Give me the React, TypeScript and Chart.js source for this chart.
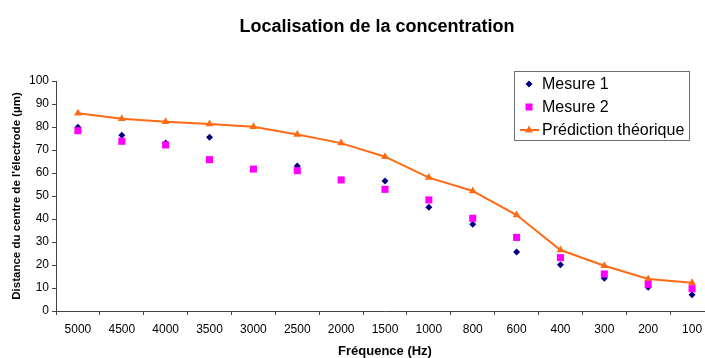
import React, { useEffect, useRef } from "react";
import { Chart, registerables } from "chart.js";

Chart.register(...registerables);

const categories = ["5000", "4500", "4000", "3500", "3000", "2500", "2000", "1500", "1000", "800", "600", "400", "300", "200", "100"];
const mesure1: (number | null)[] = [79.9, 76.4, 73.0, 75.5, null, 63.0, null, 56.5, 45.1, 37.7, 25.7, 20.1, 14.2, 10.3, 7.1];
const mesure2: (number | null)[] = [78.4, 73.8, 72.2, 65.8, 61.7, 61.0, 57.0, 52.9, 48.3, 40.3, 32.0, 23.2, 16.1, 11.6, 9.7];
const prediction: number[] = [86.0, 83.6, 82.3, 81.3, 80.1, 76.7, 73.0, 67.1, 58.0, 52.2, 41.7, 26.5, 19.7, 13.9, 12.3];

const chartTitle = "Localisation de la concentration";
const xTitle = "Fréquence (Hz)";
const yTitle = "Distance du centre de l'électrode (µm)";
const seriesNames = ["Mesure 1", "Mesure 2", "Prédiction théorique"];

const FONT = '"Liberation Sans", Arial, sans-serif';
const C1 = "#000080";
const C2 = "#FF00FF";
const C3 = "#FF6A13";

const overlayPlugin = {
  id: "overlay",
  afterDraw(chart: any) {
    const ctx = chart.ctx;
    ctx.save();
    // Title
    ctx.fillStyle = "#000";
    ctx.font = `bold 18px ${FONT}`;
    ctx.textAlign = "center";
    ctx.textBaseline = "alphabetic";
    ctx.fillText(chartTitle, 377, 31.5);

    // Legend
    const bx = 514.5, by = 71.5, bw = 175, bh = 69;
    ctx.fillStyle = "#fff";
    ctx.fillRect(bx, by, bw, bh);
    ctx.strokeStyle = "#6e6e6e";
    ctx.lineWidth = 1;
    ctx.strokeRect(bx, by, bw, bh);

    const mx = 529;
    const rows = [84, 107, 130];
    // diamond
    ctx.fillStyle = C1;
    ctx.beginPath();
    ctx.moveTo(mx, rows[0] - 3.5);
    ctx.lineTo(mx + 3.5, rows[0]);
    ctx.lineTo(mx, rows[0] + 3.5);
    ctx.lineTo(mx - 3.5, rows[0]);
    ctx.closePath();
    ctx.fill();
    // square
    ctx.fillStyle = C2;
    ctx.fillRect(mx - 3.5, rows[1] - 3.5, 7, 7);
    // line + triangle
    ctx.strokeStyle = C3;
    ctx.lineWidth = 2;
    ctx.beginPath();
    ctx.moveTo(520, rows[2]);
    ctx.lineTo(539, rows[2]);
    ctx.stroke();
    ctx.fillStyle = C3;
    ctx.beginPath();
    ctx.moveTo(mx, rows[2] - 4.5);
    ctx.lineTo(mx + 4, rows[2] + 2.5);
    ctx.lineTo(mx - 4, rows[2] + 2.5);
    ctx.closePath();
    ctx.fill();

    ctx.fillStyle = "#000";
    ctx.font = `16px ${FONT}`;
    ctx.textAlign = "left";
    ctx.textBaseline = "middle";
    seriesNames.forEach((n, i) => ctx.fillText(n, 542, rows[i] + 1));
    ctx.restore();
  },
};

export default function App() {
  const ref = useRef<HTMLCanvasElement>(null);
  useEffect(() => {
    if (!ref.current) return;
    const chart = new Chart(ref.current, {
      type: "line",
      data: {
        labels: categories,
        datasets: [
          {
            label: seriesNames[0],
            data: mesure1,
            showLine: false,
            pointStyle: "rectRot",
            pointRadius: 3.5,
            pointBackgroundColor: C1,
            pointBorderColor: C1,
            pointBorderWidth: 0,
            order: 3,
          },
          {
            label: seriesNames[2],
            data: prediction,
            borderColor: C3,
            borderWidth: 2,
            pointStyle: "triangle",
            pointRadius: 4.5,
            pointBackgroundColor: C3,
            pointBorderColor: C3,
            pointBorderWidth: 0,
            tension: 0,
            order: 2,
          },
          {
            label: seriesNames[1],
            data: mesure2,
            showLine: false,
            pointStyle: "rect",
            pointRadius: 5,
            pointBackgroundColor: C2,
            pointBorderColor: C2,
            pointBorderWidth: 0,
            order: 1,
          },
        ],
      },
      options: {
        responsive: false,
        animation: false,
        devicePixelRatio: 1,
        layout: { padding: { top: 81, right: 6, bottom: 0, left: 0 } },
        plugins: {
          legend: { display: false },
          title: { display: false },
          tooltip: { enabled: false },
        },
        scales: {
          x: {
            type: "category",
            offset: true,
            afterFit: (s: any) => {
              s.height = 47;
            },
            grid: {
              offset: true,
              drawOnChartArea: false,
              drawTicks: true,
              tickLength: 4,
              color: "#444",
            },
            border: { color: "#444", width: 1 },
            ticks: {
              color: "#000",
              font: { family: FONT, size: 12 },
              padding: 7,
              maxRotation: 0,
              autoSkip: false,
            },
            title: {
              display: true,
              text: xTitle,
              color: "#000",
              font: { family: FONT, size: 13, weight: "bold", lineHeight: 1 },
              padding: { top: 0, bottom: 0 },
            },
          },
          y: {
            min: 0,
            max: 100,
            afterFit: (s: any) => {
              s.width = 56;
            },
            grid: {
              drawOnChartArea: false,
              drawTicks: true,
              tickLength: 4,
              color: "#444",
            },
            border: { color: "#444", width: 1 },
            ticks: {
              stepSize: 10,
              color: "#000",
              font: { family: FONT, size: 12 },
              padding: 3,
            },
            title: {
              display: true,
              text: yTitle,
              color: "#000",
              font: { family: FONT, size: 11.5, weight: "bold", lineHeight: 1.2 },
              padding: { top: 10, bottom: 0 },
            },
          },
        },
      },
      plugins: [overlayPlugin],
    });
    return () => chart.destroy();
  }, []);

  return (
    <div
      style={{
        position: "absolute",
        left: 0,
        top: 0,
        width: 705,
        height: 358,
        overflow: "hidden",
        background: "#fff",
      }}
    >
      <canvas ref={ref} width={720} height={358} style={{ display: "block" }} />
    </div>
  );
}
